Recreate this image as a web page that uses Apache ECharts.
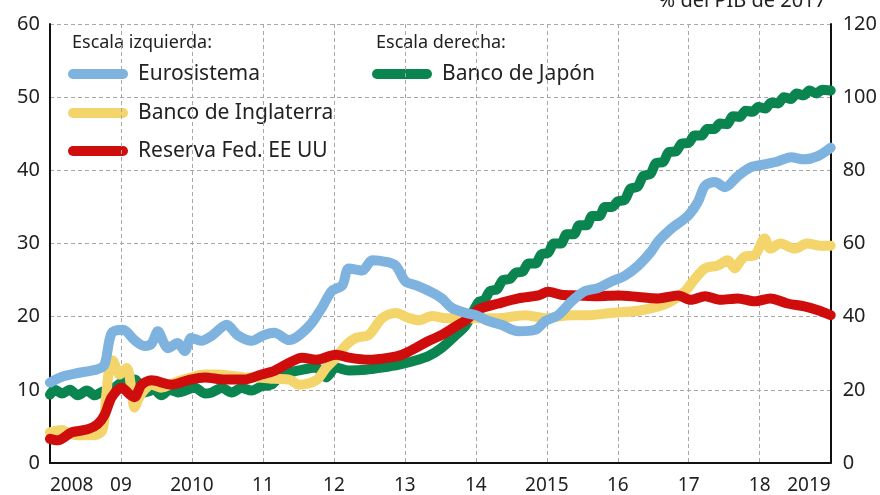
<!DOCTYPE html>
<html>
<head>
<meta charset="utf-8">
<script src="https://cdn.jsdelivr.net/npm/echarts@6/dist/echarts.min.js"></script>
<style>
html,body{margin:0;padding:0;background:#fff;}
#chart{width:880px;height:495px;}
</style>
</head>
<body>
<div id="chart"></div>
<script>
// ---- Data ----
const xTickLabels = ['2008','09','2010','11','12','13','14','2015','16','17','18','2019'];
const seriesNames = ['Eurosistema','Banco de Inglaterra','Reserva Fed. EE UU','Banco de Japón'];

// Eurosistema (% GDP, left scale)
const euroX = [2008.0,2008.17,2008.39,2008.67,2008.77,2008.87,2009.03,2009.19,2009.33,2009.43,2009.52,2009.6,2009.66,2009.8,2009.9,2009.99,2010.13,2010.28,2010.49,2010.64,2010.84,2011.02,2011.16,2011.37,2011.65,2011.83,2011.97,2012.12,2012.21,2012.4,2012.54,2012.73,2012.87,2013.01,2013.15,2013.34,2013.52,2013.66,2013.86,2014.0,2014.18,2014.36,2014.6,2014.84,2014.98,2015.16,2015.35,2015.54,2015.72,2015.91,2016.1,2016.29,2016.47,2016.57,2016.75,2016.99,2017.13,2017.23,2017.37,2017.51,2017.69,2017.87,2018.07,2018.25,2018.44,2018.63,2018.81,2019.0];
const euroY = [11.0,11.8,12.3,12.8,13.5,17.8,18.2,16.8,16.0,16.3,18.0,16.5,15.7,16.4,15.3,17.1,16.7,17.4,18.9,17.5,16.7,17.5,17.8,16.8,18.7,21.2,23.5,24.3,26.6,26.3,27.7,27.5,27.0,24.8,24.3,23.5,22.5,21.2,20.5,20.2,19.4,18.9,18.0,18.2,19.4,20.2,22.1,23.5,23.9,24.8,25.6,27.0,28.9,30.3,32.0,33.8,35.7,37.9,38.4,37.7,39.2,40.4,40.8,41.2,41.8,41.5,41.9,43.1];

// Banco de Inglaterra (left scale)
const boeX = [2008.0,2008.17,2008.28,2008.39,2008.63,2008.74,2008.79,2008.84,2008.88,2008.98,2009.08,2009.15,2009.19,2009.26,2009.33,2009.43,2009.57,2009.76,2009.99,2010.18,2010.36,2010.56,2010.74,2010.92,2011.16,2011.37,2011.51,2011.75,2011.89,2012.03,2012.17,2012.31,2012.49,2012.68,2012.87,2013.06,2013.2,2013.38,2013.58,2013.76,2014.04,2014.32,2014.7,2014.98,2015.35,2015.58,2015.91,2016.29,2016.57,2016.75,2016.95,2017.09,2017.23,2017.41,2017.55,2017.65,2017.72,2017.79,2017.93,2018.07,2018.15,2018.29,2018.49,2018.67,2018.86,2019.0];
const boeY = [4.2,4.5,4.0,3.8,3.8,4.5,9.0,13.4,14.0,12.1,13.0,9.9,7.6,9.0,10.0,10.7,10.3,11.0,11.7,12.1,12.1,11.9,11.7,11.7,11.5,11.4,10.7,11.3,13.0,14.4,16.1,17.1,17.5,19.8,20.5,19.8,19.5,20.1,19.8,19.8,19.8,19.8,20.2,19.8,20.2,20.2,20.5,20.8,21.4,22.1,23.5,25.2,26.6,27.0,27.7,26.6,27.5,28.2,28.4,30.7,29.3,30.0,29.3,30.0,29.7,29.7];

// Reserva Federal EE UU (left scale)
const fedX = [2008.0,2008.11,2008.31,2008.53,2008.67,2008.77,2008.87,2009.01,2009.12,2009.19,2009.29,2009.43,2009.71,2009.94,2010.18,2010.46,2010.74,2010.98,2011.16,2011.37,2011.55,2011.75,2012.03,2012.21,2012.49,2012.78,2012.96,2013.15,2013.34,2013.52,2013.72,2013.86,2014.04,2014.32,2014.6,2014.88,2015.02,2015.2,2015.44,2015.72,2016.01,2016.29,2016.57,2016.85,2017.03,2017.23,2017.45,2017.69,2017.93,2018.15,2018.39,2018.63,2018.81,2019.0];
const fedY = [3.3,3.1,4.2,4.6,5.3,6.6,9.0,10.3,9.4,9.0,10.7,11.3,10.7,11.3,11.7,11.4,11.4,12.1,12.6,13.7,14.4,14.1,14.8,14.4,14.1,14.4,14.8,15.7,16.7,17.5,18.7,19.5,21.0,21.8,22.5,22.9,23.4,23.0,22.9,22.8,22.9,22.7,22.5,22.9,22.3,22.8,22.3,22.5,22.1,22.5,21.8,21.4,20.9,20.2];

// Banco de Japón (right scale)
const bojX = [2008.0,2008.07,2008.17,2008.28,2008.39,2008.52,2008.63,2008.74,2008.87,2009.01,2009.19,2009.33,2009.47,2009.57,2009.69,2009.8,2010.04,2010.18,2010.28,2010.42,2010.56,2010.7,2010.84,2010.98,2011.12,2011.27,2011.51,2011.75,2011.89,2012.03,2012.21,2012.45,2012.68,2012.92,2013.15,2013.34,2013.52,2013.72,2013.86,
  2014.04,2014.12,2014.2,2014.3,2014.38,2014.48,2014.56,2014.66,2014.74,2014.84,2014.92,2015.02,2015.1,2015.2,2015.28,2015.38,2015.46,2015.56,2015.64,2015.74,2015.82,2015.92,2016.0,2016.1,2016.18,2016.28,2016.36,2016.46,2016.54,2016.64,2016.72,2016.82,2016.9,2017.0,2017.08,2017.18,2017.26,2017.36,2017.44,2017.54,2017.62,2017.72,2017.8,2017.9,2017.98,2018.08,2018.16,2018.26,2018.34,2018.44,2018.52,2018.62,2018.7,2018.8,2018.88,2019.0];
const bojY = [18.7,20.0,19.0,20.0,18.5,19.8,18.5,19.5,20.1,22.0,22.8,19.3,20.0,18.5,20.0,19.3,20.6,19.0,19.3,20.5,19.3,20.5,19.8,21.0,21.4,24.2,25.3,26.1,23.4,26.1,25.3,25.5,26.1,26.9,28.0,29.3,31.5,35.0,37.7,
  44.0,44.5,47.0,47.5,50.0,50.3,52.0,52.3,54.5,54.5,57.0,57.5,60.0,60.0,62.5,62.5,65.0,65.0,67.5,67.5,70.0,70.0,71.5,72.0,75.0,75.5,78.5,79.0,82.0,82.3,85.0,85.2,87.3,87.5,89.5,89.5,91.3,91.3,92.8,92.6,94.8,94.6,96.3,96.0,97.3,96.9,98.5,98.3,100.0,99.5,101.0,100.5,101.8,101.0,102.0,101.8];

const colors = ['#7db3de','#f3d56c','#cf0d0d','#0b8550'];
const FONT = 'Noto Sans';

function pairs(xs, ys){ return xs.map((x,i)=>[x, ys[i]]); }

const chart = echarts.init(document.getElementById('chart'), null, {renderer:'canvas'});

const gridLine = {show:true, lineStyle:{color:'#a8a8a8', type:[4,3], width:1}};

function mkSeries(name, data, color, yIdx, z){
  return {
    name, type:'line', yAxisIndex:yIdx, data, showSymbol:false, symbol:'none',
    smooth:0.3, z,
    lineStyle:{color, width:10, cap:'round', join:'round'},
    emphasis:{disabled:true}, animation:false
  };
}

const legendItems = [
  {x:68, y:74, color:colors[0], text:seriesNames[0]},
  {x:68, y:113, color:colors[1], text:seriesNames[1]},
  {x:68, y:151, color:colors[2], text:seriesNames[2]},
  {x:372, y:74, color:colors[3], text:seriesNames[3]}
];
const graphics = [
  {type:'text', x:72, y:43, style:{text:'Escala izquierda:', font:'18px "'+FONT+'"', fill:'#222', verticalAlign:'middle'}},
  {type:'text', x:376, y:43, style:{text:'Escala derecha:', font:'18px "'+FONT+'"', fill:'#222', verticalAlign:'middle'}},
  {type:'text', x:826, y:1, style:{text:'% del PIB de 2017', font:'20px "'+FONT+'"', fill:'#222', align:'right', verticalAlign:'middle'}}
];
legendItems.forEach(it=>{
  graphics.push({type:'line', shape:{x1:it.x+5, y1:it.y, x2:it.x+55, y2:it.y},
    style:{stroke:it.color, lineWidth:10, lineCap:'round'}});
  graphics.push({type:'text', x:it.x+70, y:it.y, style:{text:it.text, font:'21px "'+FONT+'"', fill:'#222', verticalAlign:'middle'}});
});

chart.setOption({
  animation:false,
  backgroundColor:'#fff',
  grid:{left:50, right:47, top:24, bottom:29, containLabel:false},
  xAxis:{
    type:'value', min:2008, max:2019, interval:1,
    axisLine:{show:true, lineStyle:{color:'#111', width:2}},
    axisTick:{show:false},
    splitLine:gridLine,
    axisLabel:{
      color:'#222', fontFamily:FONT, fontSize:19, margin:13,
      alignMinLabel:'left', alignMaxLabel:'right',
      formatter:(v)=>xTickLabels[Math.round(v-2008)]
    }
  },
  yAxis:[
    {type:'value', min:0, max:60, interval:10, position:'left',
     axisLine:{show:true, lineStyle:{color:'#111', width:2}},
     axisTick:{show:false}, splitLine:gridLine,
     axisLabel:{color:'#222', fontFamily:FONT, fontSize:20, margin:10}},
    {type:'value', min:0, max:120, interval:20, position:'right',
     axisLine:{show:true, lineStyle:{color:'#111', width:2}},
     axisTick:{show:false}, splitLine:{show:false},
     axisLabel:{color:'#222', fontFamily:FONT, fontSize:20, margin:12}}
  ],
  series:[
    mkSeries(seriesNames[3], pairs(bojX,bojY), colors[3], 1, 2),
    mkSeries(seriesNames[1], pairs(boeX,boeY), colors[1], 0, 3),
    mkSeries(seriesNames[2], pairs(fedX,fedY), colors[2], 0, 4),
    mkSeries(seriesNames[0], pairs(euroX,euroY), colors[0], 0, 5)
  ],
  graphic:graphics
});
</script>
</body>
</html>
